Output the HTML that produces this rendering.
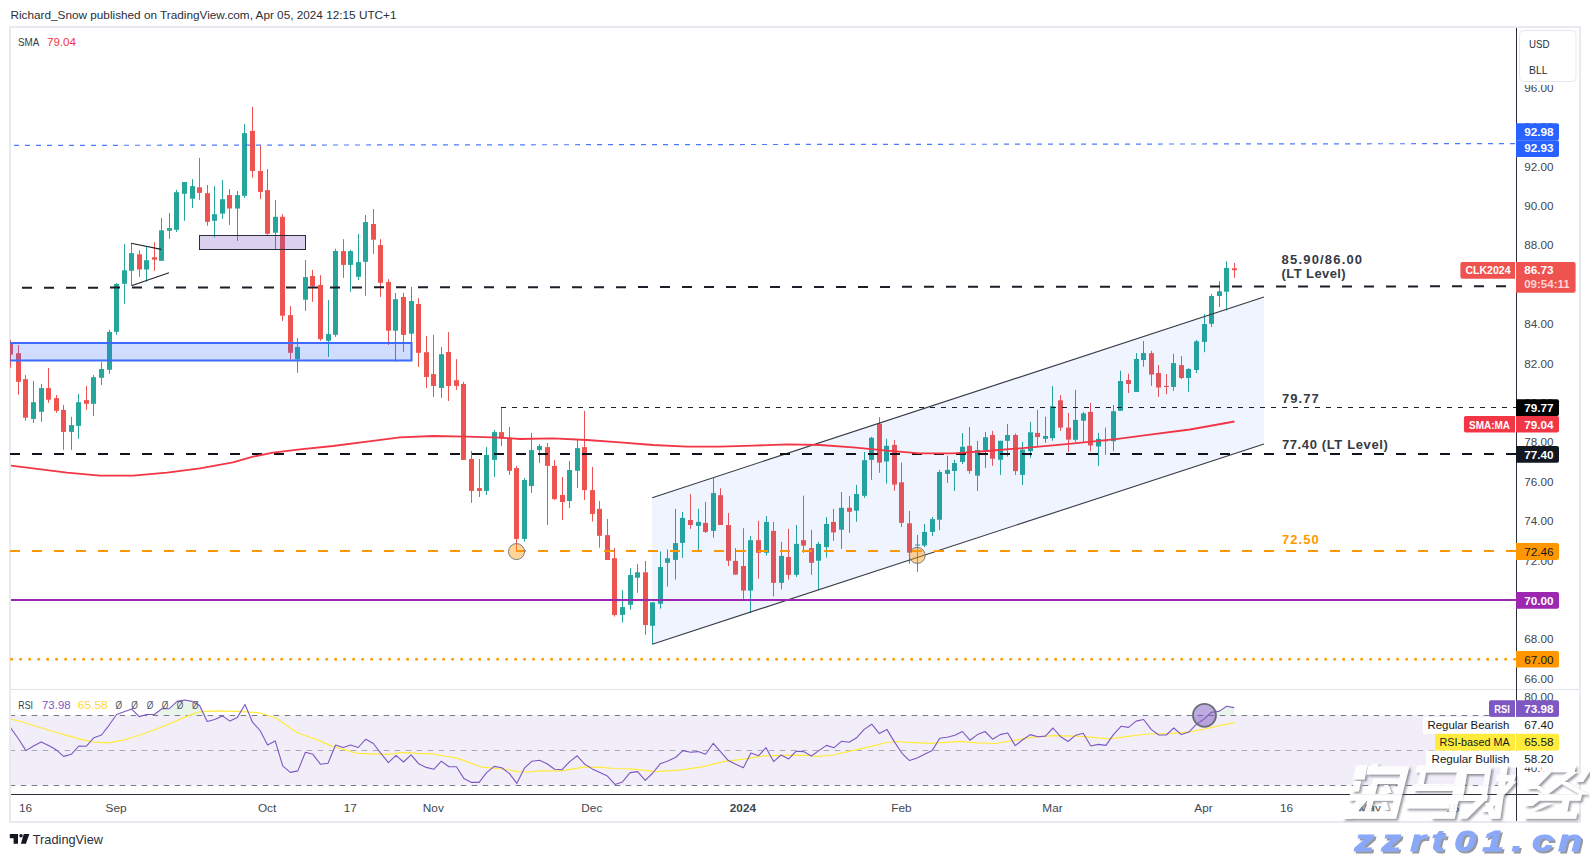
<!DOCTYPE html><html><head><meta charset="utf-8"><title>chart</title>
<style>html,body{margin:0;padding:0;background:#fff;}body{width:1590px;height:857px;overflow:hidden;font-family:"Liberation Sans",sans-serif;}svg{display:block;}text{font-family:"Liberation Sans",sans-serif;}</style></head><body>
<svg width="1590" height="857" viewBox="0 0 1590 857">
<defs>
<clipPath id="main"><rect x="10" y="28" width="1506" height="661.5"/></clipPath>
<clipPath id="rsi"><rect x="11" y="690" width="1505" height="104"/></clipPath>
<clipPath id="axis"><rect x="1517" y="28" width="62" height="661"/></clipPath>
<clipPath id="axis2"><rect x="1517" y="690" width="62" height="104"/></clipPath>
</defs>
<rect x="0" y="0" width="1590" height="857" fill="#ffffff"/>
<text x="10.5" y="18.7" font-size="11.6" fill="#2a2e39" textLength="386" lengthAdjust="spacingAndGlyphs">Richard_Snow published on TradingView.com, Apr 05, 2024 12:15 UTC+1</text>
<rect x="10" y="27" width="1570" height="795" fill="#ffffff" stroke="#e8eaf0" stroke-width="2"/>
<g clip-path="url(#main)">
<rect x="10" y="339.9" width="1" height="27.8" fill="#ef5350"/>
<rect x="8" y="342.9" width="5" height="11.7" fill="#ef5350"/>
<rect x="18" y="345.0" width="1" height="49.8" fill="#ef5350"/>
<rect x="16" y="353.2" width="5" height="28.6" fill="#ef5350"/>
<rect x="25" y="375.1" width="1" height="45.7" fill="#ef5350"/>
<rect x="23" y="379.2" width="5" height="38.5" fill="#ef5350"/>
<rect x="33" y="380.9" width="1" height="42.0" fill="#26a69a"/>
<rect x="31" y="402.2" width="5" height="16.7" fill="#26a69a"/>
<rect x="41" y="384.1" width="1" height="37.7" fill="#26a69a"/>
<rect x="39" y="388.1" width="5" height="23.7" fill="#26a69a"/>
<rect x="48" y="368.0" width="1" height="34.8" fill="#ef5350"/>
<rect x="46" y="388.1" width="5" height="11.6" fill="#ef5350"/>
<rect x="56" y="395.0" width="1" height="17.8" fill="#ef5350"/>
<rect x="54" y="398.1" width="5" height="12.7" fill="#ef5350"/>
<rect x="63" y="405.0" width="1" height="44.9" fill="#ef5350"/>
<rect x="61" y="409.9" width="5" height="22.0" fill="#ef5350"/>
<rect x="71" y="416.9" width="1" height="33.0" fill="#26a69a"/>
<rect x="69" y="425.1" width="5" height="6.8" fill="#26a69a"/>
<rect x="78" y="394.0" width="1" height="44.8" fill="#26a69a"/>
<rect x="76" y="402.2" width="5" height="23.7" fill="#26a69a"/>
<rect x="86" y="386.0" width="1" height="23.9" fill="#ef5350"/>
<rect x="84" y="400.1" width="5" height="3.7" fill="#ef5350"/>
<rect x="93" y="375.1" width="1" height="40.8" fill="#26a69a"/>
<rect x="91" y="377.2" width="5" height="26.6" fill="#26a69a"/>
<rect x="101" y="362.2" width="1" height="22.7" fill="#26a69a"/>
<rect x="99" y="369.0" width="5" height="8.8" fill="#26a69a"/>
<rect x="109" y="329.8" width="1" height="44.1" fill="#26a69a"/>
<rect x="107" y="331.9" width="5" height="37.9" fill="#26a69a"/>
<rect x="116" y="283.1" width="1" height="51.8" fill="#26a69a"/>
<rect x="114" y="284.0" width="5" height="47.8" fill="#26a69a"/>
<rect x="124" y="244.2" width="1" height="59.6" fill="#26a69a"/>
<rect x="122" y="270.3" width="5" height="13.5" fill="#26a69a"/>
<rect x="131" y="243.3" width="1" height="42.2" fill="#26a69a"/>
<rect x="129" y="253.1" width="5" height="17.7" fill="#26a69a"/>
<rect x="139" y="250.2" width="1" height="26.6" fill="#ef5350"/>
<rect x="137" y="254.3" width="5" height="15.2" fill="#ef5350"/>
<rect x="146" y="247.1" width="1" height="34.6" fill="#26a69a"/>
<rect x="144" y="260.2" width="5" height="9.3" fill="#26a69a"/>
<rect x="154" y="242.2" width="1" height="28.6" fill="#ef5350"/>
<rect x="152" y="257.2" width="5" height="2.5" fill="#ef5350"/>
<rect x="161" y="218.0" width="1" height="42.8" fill="#26a69a"/>
<rect x="159" y="230.3" width="5" height="30.5" fill="#26a69a"/>
<rect x="169" y="213.1" width="1" height="25.7" fill="#26a69a"/>
<rect x="167" y="228.1" width="5" height="2.7" fill="#26a69a"/>
<rect x="176" y="189.9" width="1" height="42.0" fill="#26a69a"/>
<rect x="174" y="192.2" width="5" height="37.6" fill="#26a69a"/>
<rect x="184" y="182.0" width="1" height="38.8" fill="#26a69a"/>
<rect x="182" y="182.0" width="5" height="11.8" fill="#26a69a"/>
<rect x="192" y="179.1" width="1" height="28.8" fill="#26a69a"/>
<rect x="190" y="186.1" width="5" height="12.6" fill="#26a69a"/>
<rect x="199" y="157.9" width="1" height="41.9" fill="#ef5350"/>
<rect x="197" y="187.3" width="5" height="5.6" fill="#ef5350"/>
<rect x="207" y="185.0" width="1" height="40.8" fill="#ef5350"/>
<rect x="205" y="193.2" width="5" height="28.6" fill="#ef5350"/>
<rect x="214" y="186.1" width="1" height="51.5" fill="#26a69a"/>
<rect x="212" y="214.2" width="5" height="6.6" fill="#26a69a"/>
<rect x="222" y="179.9" width="1" height="38.9" fill="#26a69a"/>
<rect x="220" y="199.2" width="5" height="14.4" fill="#26a69a"/>
<rect x="229" y="189.1" width="1" height="35.8" fill="#ef5350"/>
<rect x="227" y="195.1" width="5" height="13.4" fill="#ef5350"/>
<rect x="237" y="191.0" width="1" height="49.9" fill="#26a69a"/>
<rect x="235" y="195.1" width="5" height="13.4" fill="#26a69a"/>
<rect x="244" y="124.1" width="1" height="73.8" fill="#26a69a"/>
<rect x="242" y="133.1" width="5" height="62.7" fill="#26a69a"/>
<rect x="252" y="106.9" width="1" height="70.9" fill="#ef5350"/>
<rect x="250" y="130.9" width="5" height="40.1" fill="#ef5350"/>
<rect x="260" y="145.2" width="1" height="53.9" fill="#ef5350"/>
<rect x="258" y="171.0" width="5" height="20.9" fill="#ef5350"/>
<rect x="267" y="169.0" width="1" height="65.8" fill="#ef5350"/>
<rect x="265" y="190.1" width="5" height="43.7" fill="#ef5350"/>
<rect x="275" y="199.9" width="1" height="49.1" fill="#26a69a"/>
<rect x="273" y="216.8" width="5" height="15.9" fill="#26a69a"/>
<rect x="282" y="214.2" width="1" height="106.7" fill="#ef5350"/>
<rect x="280" y="216.8" width="5" height="98.9" fill="#ef5350"/>
<rect x="290" y="306.1" width="1" height="53.5" fill="#ef5350"/>
<rect x="288" y="315.1" width="5" height="37.7" fill="#ef5350"/>
<rect x="297" y="338.1" width="1" height="34.6" fill="#26a69a"/>
<rect x="295" y="347.1" width="5" height="12.1" fill="#26a69a"/>
<rect x="305" y="260.1" width="1" height="50.7" fill="#26a69a"/>
<rect x="303" y="277.1" width="5" height="22.6" fill="#26a69a"/>
<rect x="312" y="269.9" width="1" height="31.9" fill="#ef5350"/>
<rect x="310" y="276.0" width="5" height="10.1" fill="#ef5350"/>
<rect x="320" y="275.2" width="1" height="65.6" fill="#ef5350"/>
<rect x="318" y="285.0" width="5" height="54.1" fill="#ef5350"/>
<rect x="328" y="300.0" width="1" height="56.9" fill="#26a69a"/>
<rect x="326" y="334.1" width="5" height="6.7" fill="#26a69a"/>
<rect x="335" y="248.7" width="1" height="88.2" fill="#26a69a"/>
<rect x="333" y="251.0" width="5" height="83.8" fill="#26a69a"/>
<rect x="343" y="239.2" width="1" height="38.7" fill="#ef5350"/>
<rect x="341" y="251.1" width="5" height="13.8" fill="#ef5350"/>
<rect x="350" y="249.8" width="1" height="42.0" fill="#26a69a"/>
<rect x="348" y="251.1" width="5" height="13.8" fill="#26a69a"/>
<rect x="358" y="234.0" width="1" height="46.1" fill="#26a69a"/>
<rect x="356" y="262.1" width="5" height="14.7" fill="#26a69a"/>
<rect x="365" y="215.0" width="1" height="80.9" fill="#26a69a"/>
<rect x="363" y="222.1" width="5" height="39.7" fill="#26a69a"/>
<rect x="373" y="209.0" width="1" height="44.9" fill="#ef5350"/>
<rect x="371" y="224.0" width="5" height="15.7" fill="#ef5350"/>
<rect x="380" y="239.2" width="1" height="57.7" fill="#ef5350"/>
<rect x="378" y="245.1" width="5" height="37.7" fill="#ef5350"/>
<rect x="388" y="279.2" width="1" height="65.7" fill="#ef5350"/>
<rect x="386" y="282.0" width="5" height="48.7" fill="#ef5350"/>
<rect x="395" y="293.1" width="1" height="68.7" fill="#26a69a"/>
<rect x="393" y="299.2" width="5" height="31.5" fill="#26a69a"/>
<rect x="403" y="292.9" width="1" height="58.9" fill="#ef5350"/>
<rect x="401" y="297.0" width="5" height="37.9" fill="#ef5350"/>
<rect x="411" y="286.8" width="1" height="55.5" fill="#26a69a"/>
<rect x="409" y="301.0" width="5" height="32.7" fill="#26a69a"/>
<rect x="418" y="298.1" width="1" height="68.8" fill="#ef5350"/>
<rect x="416" y="304.0" width="5" height="48.8" fill="#ef5350"/>
<rect x="426" y="335.8" width="1" height="52.2" fill="#ef5350"/>
<rect x="424" y="352.2" width="5" height="24.8" fill="#ef5350"/>
<rect x="433" y="334.9" width="1" height="62.1" fill="#ef5350"/>
<rect x="431" y="374.1" width="5" height="11.9" fill="#ef5350"/>
<rect x="441" y="347.1" width="1" height="50.8" fill="#26a69a"/>
<rect x="439" y="354.2" width="5" height="33.8" fill="#26a69a"/>
<rect x="448" y="332.1" width="1" height="68.9" fill="#ef5350"/>
<rect x="446" y="352.0" width="5" height="34.0" fill="#ef5350"/>
<rect x="456" y="359.1" width="1" height="30.9" fill="#ef5350"/>
<rect x="454" y="380.2" width="5" height="5.7" fill="#ef5350"/>
<rect x="463" y="381.8" width="1" height="78.1" fill="#ef5350"/>
<rect x="461" y="383.9" width="5" height="76.0" fill="#ef5350"/>
<rect x="471" y="450.9" width="1" height="51.9" fill="#ef5350"/>
<rect x="469" y="459.0" width="5" height="31.9" fill="#ef5350"/>
<rect x="479" y="459.0" width="1" height="38.0" fill="#ef5350"/>
<rect x="477" y="488.1" width="5" height="2.8" fill="#ef5350"/>
<rect x="486" y="447.1" width="1" height="47.9" fill="#26a69a"/>
<rect x="484" y="455.0" width="5" height="35.9" fill="#26a69a"/>
<rect x="494" y="430.0" width="1" height="47.0" fill="#26a69a"/>
<rect x="492" y="432.1" width="5" height="27.8" fill="#26a69a"/>
<rect x="501" y="407.6" width="1" height="38.4" fill="#ef5350"/>
<rect x="499" y="432.1" width="5" height="6.5" fill="#ef5350"/>
<rect x="509" y="426.9" width="1" height="48.0" fill="#ef5350"/>
<rect x="507" y="437.8" width="5" height="33.0" fill="#ef5350"/>
<rect x="516" y="465.8" width="1" height="86.2" fill="#ef5350"/>
<rect x="514" y="468.1" width="5" height="70.8" fill="#ef5350"/>
<rect x="524" y="478.0" width="1" height="63.8" fill="#26a69a"/>
<rect x="522" y="480.0" width="5" height="58.9" fill="#26a69a"/>
<rect x="531" y="432.9" width="1" height="60.0" fill="#26a69a"/>
<rect x="529" y="450.1" width="5" height="35.9" fill="#26a69a"/>
<rect x="539" y="444.0" width="1" height="19.1" fill="#26a69a"/>
<rect x="537" y="446.0" width="5" height="4.1" fill="#26a69a"/>
<rect x="547" y="443.0" width="1" height="82.0" fill="#ef5350"/>
<rect x="545" y="447.1" width="5" height="18.8" fill="#ef5350"/>
<rect x="554" y="459.9" width="1" height="40.0" fill="#ef5350"/>
<rect x="552" y="465.9" width="5" height="33.2" fill="#ef5350"/>
<rect x="562" y="477.0" width="1" height="43.1" fill="#ef5350"/>
<rect x="560" y="495.0" width="5" height="7.0" fill="#ef5350"/>
<rect x="569" y="461.0" width="1" height="47.0" fill="#26a69a"/>
<rect x="567" y="470.0" width="5" height="31.0" fill="#26a69a"/>
<rect x="577" y="439.9" width="1" height="48.1" fill="#26a69a"/>
<rect x="575" y="448.1" width="5" height="22.7" fill="#26a69a"/>
<rect x="584" y="410.8" width="1" height="89.2" fill="#ef5350"/>
<rect x="582" y="447.1" width="5" height="43.0" fill="#ef5350"/>
<rect x="592" y="466.9" width="1" height="54.6" fill="#ef5350"/>
<rect x="590" y="490.1" width="5" height="23.8" fill="#ef5350"/>
<rect x="599" y="501.0" width="1" height="46.7" fill="#ef5350"/>
<rect x="597" y="508.9" width="5" height="26.9" fill="#ef5350"/>
<rect x="607" y="519.0" width="1" height="41.0" fill="#ef5350"/>
<rect x="605" y="535.1" width="5" height="24.9" fill="#ef5350"/>
<rect x="614" y="548.1" width="1" height="68.5" fill="#ef5350"/>
<rect x="612" y="558.2" width="5" height="56.7" fill="#ef5350"/>
<rect x="622" y="590.1" width="1" height="32.5" fill="#26a69a"/>
<rect x="620" y="607.1" width="5" height="7.8" fill="#26a69a"/>
<rect x="630" y="568.1" width="1" height="41.5" fill="#26a69a"/>
<rect x="628" y="575.0" width="5" height="29.8" fill="#26a69a"/>
<rect x="637" y="564.1" width="1" height="28.7" fill="#26a69a"/>
<rect x="635" y="572.3" width="5" height="5.4" fill="#26a69a"/>
<rect x="645" y="560.9" width="1" height="73.9" fill="#ef5350"/>
<rect x="643" y="572.3" width="5" height="52.7" fill="#ef5350"/>
<rect x="652" y="602.3" width="1" height="42.0" fill="#26a69a"/>
<rect x="650" y="602.3" width="5" height="23.5" fill="#26a69a"/>
<rect x="660" y="551.5" width="1" height="57.1" fill="#26a69a"/>
<rect x="658" y="567.0" width="5" height="36.8" fill="#26a69a"/>
<rect x="667" y="549.4" width="1" height="37.1" fill="#26a69a"/>
<rect x="665" y="558.2" width="5" height="4.6" fill="#26a69a"/>
<rect x="675" y="508.8" width="1" height="70.8" fill="#26a69a"/>
<rect x="673" y="543.1" width="5" height="16.8" fill="#26a69a"/>
<rect x="682" y="512.0" width="1" height="45.8" fill="#26a69a"/>
<rect x="680" y="517.9" width="5" height="25.0" fill="#26a69a"/>
<rect x="690" y="494.1" width="1" height="34.7" fill="#ef5350"/>
<rect x="688" y="520.0" width="5" height="5.0" fill="#ef5350"/>
<rect x="698" y="508.8" width="1" height="42.0" fill="#26a69a"/>
<rect x="696" y="521.9" width="5" height="4.0" fill="#26a69a"/>
<rect x="705" y="501.9" width="1" height="31.1" fill="#ef5350"/>
<rect x="703" y="522.9" width="5" height="9.0" fill="#ef5350"/>
<rect x="713" y="478.0" width="1" height="59.6" fill="#26a69a"/>
<rect x="711" y="493.1" width="5" height="37.8" fill="#26a69a"/>
<rect x="720" y="488.3" width="1" height="36.7" fill="#ef5350"/>
<rect x="718" y="495.2" width="5" height="29.8" fill="#ef5350"/>
<rect x="728" y="513.0" width="1" height="53.0" fill="#ef5350"/>
<rect x="726" y="525.0" width="5" height="35.7" fill="#ef5350"/>
<rect x="735" y="548.1" width="1" height="26.5" fill="#ef5350"/>
<rect x="733" y="560.9" width="5" height="13.7" fill="#ef5350"/>
<rect x="743" y="528.2" width="1" height="70.6" fill="#ef5350"/>
<rect x="741" y="566.0" width="5" height="24.6" fill="#ef5350"/>
<rect x="750" y="536.0" width="1" height="77.2" fill="#26a69a"/>
<rect x="748" y="540.2" width="5" height="50.4" fill="#26a69a"/>
<rect x="758" y="520.8" width="1" height="57.8" fill="#ef5350"/>
<rect x="756" y="540.2" width="5" height="12.6" fill="#ef5350"/>
<rect x="766" y="516.0" width="1" height="39.5" fill="#26a69a"/>
<rect x="764" y="521.9" width="5" height="30.9" fill="#26a69a"/>
<rect x="773" y="521.9" width="1" height="74.5" fill="#ef5350"/>
<rect x="771" y="530.9" width="5" height="51.9" fill="#ef5350"/>
<rect x="781" y="541.8" width="1" height="47.7" fill="#26a69a"/>
<rect x="779" y="555.9" width="5" height="26.9" fill="#26a69a"/>
<rect x="788" y="528.8" width="1" height="50.8" fill="#ef5350"/>
<rect x="786" y="557.0" width="5" height="17.8" fill="#ef5350"/>
<rect x="796" y="525.0" width="1" height="51.9" fill="#26a69a"/>
<rect x="794" y="543.9" width="5" height="30.9" fill="#26a69a"/>
<rect x="803" y="495.6" width="1" height="57.2" fill="#ef5350"/>
<rect x="801" y="540.2" width="5" height="5.4" fill="#ef5350"/>
<rect x="811" y="529.9" width="1" height="44.9" fill="#ef5350"/>
<rect x="809" y="548.1" width="5" height="14.7" fill="#ef5350"/>
<rect x="818" y="541.8" width="1" height="48.3" fill="#26a69a"/>
<rect x="816" y="543.9" width="5" height="16.8" fill="#26a69a"/>
<rect x="826" y="517.1" width="1" height="40.5" fill="#26a69a"/>
<rect x="824" y="524.0" width="5" height="23.1" fill="#26a69a"/>
<rect x="833" y="508.9" width="1" height="31.9" fill="#ef5350"/>
<rect x="831" y="521.9" width="5" height="10.5" fill="#ef5350"/>
<rect x="841" y="492.1" width="1" height="56.7" fill="#26a69a"/>
<rect x="839" y="507.8" width="5" height="21.9" fill="#26a69a"/>
<rect x="849" y="496.1" width="1" height="36.7" fill="#ef5350"/>
<rect x="847" y="507.8" width="5" height="4.0" fill="#ef5350"/>
<rect x="856" y="484.9" width="1" height="36.9" fill="#26a69a"/>
<rect x="854" y="494.0" width="5" height="16.7" fill="#26a69a"/>
<rect x="864" y="452.0" width="1" height="45.9" fill="#26a69a"/>
<rect x="862" y="460.2" width="5" height="35.6" fill="#26a69a"/>
<rect x="871" y="436.7" width="1" height="43.1" fill="#26a69a"/>
<rect x="869" y="437.8" width="5" height="22.1" fill="#26a69a"/>
<rect x="879" y="417.2" width="1" height="55.6" fill="#ef5350"/>
<rect x="877" y="423.7" width="5" height="38.9" fill="#ef5350"/>
<rect x="886" y="438.8" width="1" height="44.8" fill="#26a69a"/>
<rect x="884" y="445.8" width="5" height="15.7" fill="#26a69a"/>
<rect x="894" y="439.9" width="1" height="50.8" fill="#ef5350"/>
<rect x="892" y="444.9" width="5" height="39.7" fill="#ef5350"/>
<rect x="901" y="462.6" width="1" height="64.4" fill="#ef5350"/>
<rect x="899" y="482.3" width="5" height="40.5" fill="#ef5350"/>
<rect x="909" y="510.9" width="1" height="52.9" fill="#ef5350"/>
<rect x="907" y="523.3" width="5" height="29.4" fill="#ef5350"/>
<rect x="917" y="535.0" width="1" height="36.8" fill="#26a69a"/>
<rect x="915" y="544.5" width="5" height="1.0" fill="#26a69a"/>
<rect x="924" y="523.9" width="1" height="23.1" fill="#26a69a"/>
<rect x="922" y="531.9" width="5" height="13.6" fill="#26a69a"/>
<rect x="932" y="517.0" width="1" height="18.9" fill="#26a69a"/>
<rect x="930" y="519.1" width="5" height="12.8" fill="#26a69a"/>
<rect x="939" y="469.9" width="1" height="60.3" fill="#26a69a"/>
<rect x="937" y="472.0" width="5" height="47.7" fill="#26a69a"/>
<rect x="947" y="455.6" width="1" height="27.3" fill="#26a69a"/>
<rect x="945" y="469.9" width="5" height="4.0" fill="#26a69a"/>
<rect x="954" y="459.8" width="1" height="31.1" fill="#26a69a"/>
<rect x="952" y="463.0" width="5" height="8.0" fill="#26a69a"/>
<rect x="962" y="433.0" width="1" height="31.0" fill="#26a69a"/>
<rect x="960" y="446.8" width="5" height="15.1" fill="#26a69a"/>
<rect x="969" y="426.9" width="1" height="47.0" fill="#ef5350"/>
<rect x="967" y="445.8" width="5" height="25.2" fill="#ef5350"/>
<rect x="977" y="440.9" width="1" height="50.0" fill="#26a69a"/>
<rect x="975" y="450.0" width="5" height="25.6" fill="#26a69a"/>
<rect x="985" y="431.9" width="1" height="35.9" fill="#26a69a"/>
<rect x="983" y="437.2" width="5" height="12.8" fill="#26a69a"/>
<rect x="992" y="430.8" width="1" height="35.0" fill="#ef5350"/>
<rect x="990" y="435.0" width="5" height="23.7" fill="#ef5350"/>
<rect x="1000" y="440.8" width="1" height="34.1" fill="#26a69a"/>
<rect x="998" y="440.8" width="5" height="19.0" fill="#26a69a"/>
<rect x="1007" y="424.0" width="1" height="32.6" fill="#26a69a"/>
<rect x="1005" y="435.0" width="5" height="5.8" fill="#26a69a"/>
<rect x="1015" y="433.5" width="1" height="41.4" fill="#ef5350"/>
<rect x="1013" y="435.0" width="5" height="36.1" fill="#ef5350"/>
<rect x="1022" y="441.9" width="1" height="43.1" fill="#26a69a"/>
<rect x="1020" y="449.7" width="5" height="25.2" fill="#26a69a"/>
<rect x="1030" y="421.8" width="1" height="35.9" fill="#26a69a"/>
<rect x="1028" y="432.3" width="5" height="18.9" fill="#26a69a"/>
<rect x="1037" y="409.8" width="1" height="36.1" fill="#ef5350"/>
<rect x="1035" y="432.9" width="5" height="4.2" fill="#ef5350"/>
<rect x="1045" y="416.7" width="1" height="26.1" fill="#26a69a"/>
<rect x="1043" y="436.0" width="5" height="2.8" fill="#26a69a"/>
<rect x="1052" y="386.1" width="1" height="54.6" fill="#26a69a"/>
<rect x="1050" y="406.2" width="5" height="31.9" fill="#26a69a"/>
<rect x="1060" y="395.1" width="1" height="35.7" fill="#ef5350"/>
<rect x="1058" y="400.3" width="5" height="27.3" fill="#ef5350"/>
<rect x="1068" y="412.9" width="1" height="38.9" fill="#ef5350"/>
<rect x="1066" y="427.6" width="5" height="12.0" fill="#ef5350"/>
<rect x="1075" y="389.8" width="1" height="52.1" fill="#26a69a"/>
<rect x="1073" y="419.9" width="5" height="19.9" fill="#26a69a"/>
<rect x="1083" y="411.9" width="1" height="30.0" fill="#26a69a"/>
<rect x="1081" y="413.4" width="5" height="7.3" fill="#26a69a"/>
<rect x="1090" y="402.9" width="1" height="48.3" fill="#ef5350"/>
<rect x="1088" y="411.9" width="5" height="33.6" fill="#ef5350"/>
<rect x="1098" y="432.9" width="1" height="33.0" fill="#26a69a"/>
<rect x="1096" y="438.8" width="5" height="7.7" fill="#26a69a"/>
<rect x="1105" y="427.6" width="1" height="27.3" fill="#ef5350"/>
<rect x="1103" y="439.8" width="5" height="1.5" fill="#ef5350"/>
<rect x="1113" y="405.0" width="1" height="46.2" fill="#26a69a"/>
<rect x="1111" y="411.3" width="5" height="30.0" fill="#26a69a"/>
<rect x="1120" y="370.7" width="1" height="40.1" fill="#26a69a"/>
<rect x="1118" y="381.0" width="5" height="29.8" fill="#26a69a"/>
<rect x="1128" y="373.7" width="1" height="19.3" fill="#ef5350"/>
<rect x="1126" y="380.0" width="5" height="4.0" fill="#ef5350"/>
<rect x="1136" y="353.1" width="1" height="38.8" fill="#26a69a"/>
<rect x="1134" y="359.0" width="5" height="32.9" fill="#26a69a"/>
<rect x="1143" y="340.9" width="1" height="25.8" fill="#26a69a"/>
<rect x="1141" y="353.1" width="5" height="6.9" fill="#26a69a"/>
<rect x="1151" y="350.8" width="1" height="35.1" fill="#ef5350"/>
<rect x="1149" y="353.2" width="5" height="21.4" fill="#ef5350"/>
<rect x="1158" y="365.1" width="1" height="31.7" fill="#ef5350"/>
<rect x="1156" y="373.0" width="5" height="14.5" fill="#ef5350"/>
<rect x="1166" y="374.0" width="1" height="20.2" fill="#ef5350"/>
<rect x="1164" y="385.9" width="5" height="1.1" fill="#ef5350"/>
<rect x="1173" y="353.8" width="1" height="37.1" fill="#26a69a"/>
<rect x="1171" y="363.1" width="5" height="23.8" fill="#26a69a"/>
<rect x="1181" y="356.2" width="1" height="22.8" fill="#ef5350"/>
<rect x="1179" y="365.1" width="5" height="12.9" fill="#ef5350"/>
<rect x="1188" y="368.1" width="1" height="23.8" fill="#26a69a"/>
<rect x="1186" y="369.0" width="5" height="9.0" fill="#26a69a"/>
<rect x="1196" y="339.9" width="1" height="33.1" fill="#26a69a"/>
<rect x="1194" y="341.3" width="5" height="28.7" fill="#26a69a"/>
<rect x="1204" y="314.1" width="1" height="38.1" fill="#26a69a"/>
<rect x="1202" y="324.0" width="5" height="17.9" fill="#26a69a"/>
<rect x="1211" y="294.0" width="1" height="33.0" fill="#26a69a"/>
<rect x="1209" y="296.0" width="5" height="27.8" fill="#26a69a"/>
<rect x="1219" y="281.2" width="1" height="25.9" fill="#26a69a"/>
<rect x="1217" y="291.3" width="5" height="4.7" fill="#26a69a"/>
<rect x="1226" y="261.3" width="1" height="49.2" fill="#26a69a"/>
<rect x="1224" y="267.9" width="5" height="23.8" fill="#26a69a"/>
<rect x="1234" y="262.9" width="1" height="14.9" fill="#ef5350"/>
<rect x="1232" y="268.3" width="5" height="1.9" fill="#ef5350"/>
<polygon points="652.2,497.7 1264,297.0 1264,444.0 652.2,644.3" fill="#2962ff" fill-opacity="0.07"/>
<line x1="652.2" y1="497.7" x2="1264" y2="297.0" stroke="#363a45" stroke-width="1.1"/>
<line x1="652.2" y1="644.3" x2="1264" y2="444.0" stroke="#363a45" stroke-width="1.1"/>
<line x1="14" y1="145.4" x2="1516" y2="143.6" stroke="#2962ff" stroke-opacity="0.85" stroke-width="1.2" stroke-dasharray="5 6"/>
<rect x="0" y="343" width="411.5" height="17.5" fill="#2962ff" fill-opacity="0.22" stroke="#3d6bff" stroke-width="2"/>
<rect x="199.5" y="235.5" width="106" height="14" fill="#7e57c2" fill-opacity="0.28" stroke="#2a2e39" stroke-width="1"/>
<line x1="131" y1="243.3" x2="161.4" y2="249.4" stroke="#1e222d" stroke-width="1.1"/>
<line x1="131.4" y1="285.8" x2="169" y2="272.7" stroke="#1e222d" stroke-width="1.1"/>
<line x1="22" y1="287.7" x2="1506" y2="286.3" stroke="#1c1f2a" stroke-width="2" stroke-dasharray="10 12"/>
<line x1="501" y1="407.5" x2="1516" y2="407.5" stroke="#1c1f2a" stroke-width="1" stroke-dasharray="5 6"/>
<line x1="10" y1="454" x2="1516" y2="454" stroke="#10131c" stroke-width="2" stroke-dasharray="10 12"/>
<line x1="10" y1="551" x2="1516" y2="551" stroke="#ff9800" stroke-width="2" stroke-dasharray="10 12"/>
<line x1="11" y1="600" x2="1516" y2="600" stroke="#9c27b0" stroke-width="2"/>
<line x1="10.3" y1="659.3" x2="1516" y2="659.3" stroke="#ff9800" stroke-width="2.4" stroke-dasharray="2.6 6.4"/>
<polyline points="11.0,465.7 33.0,468.3 67.0,472.7 100.0,475.7 133.0,475.7 167.0,472.7 200.0,468.3 233.0,462.3 253.0,456.7 273.0,452.7 300.0,449.3 333.0,446.0 367.0,441.7 400.0,437.3 433.0,436.0 467.0,436.7 500.0,437.7 520.0,439.0 553.0,438.3 587.0,440.0 620.0,442.3 653.0,445.0 687.0,446.7 720.0,446.7 753.0,445.7 787.0,444.3 820.0,445.0 853.0,447.3 887.0,450.7 920.0,453.3 953.0,453.3 987.0,451.0 1020.0,448.3 1050.0,445.7 1074.0,443.4 1116.0,439.2 1150.0,434.6 1190.0,429.5 1234.5,421.5" fill="none" stroke="#f23645" stroke-width="1.8" stroke-linejoin="round"/>
<circle cx="516.5" cy="551.6" r="8" fill="#ff9800" fill-opacity="0.42" stroke="#787b86" stroke-width="1"/>
<circle cx="917.2" cy="555.4" r="8" fill="#ff9800" fill-opacity="0.42" stroke="#787b86" stroke-width="1"/>
<text x="1281.6" y="263.6" font-size="13" font-weight="bold" fill="#363a45" textLength="80.5" lengthAdjust="spacing">85.90/86.00</text>
<text x="1281.6" y="277.7" font-size="13" font-weight="bold" fill="#363a45" textLength="64" lengthAdjust="spacing">(LT Level)</text>
<text x="1281.9" y="402.9" font-size="13" font-weight="bold" fill="#363a45" textLength="36.8" lengthAdjust="spacing">79.77</text>
<text x="1281.9" y="448.9" font-size="13" font-weight="bold" fill="#363a45" textLength="106" lengthAdjust="spacing">77.40 (LT Level)</text>
<text x="1281.9" y="543.8" font-size="13" font-weight="bold" fill="#ff9800" textLength="36.8" lengthAdjust="spacing">72.50</text>
<text x="18" y="45.6" font-size="11.8" fill="#363a45" textLength="21.3" lengthAdjust="spacingAndGlyphs">SMA</text>
<text x="46.9" y="45.6" font-size="11.8" fill="#f23645" textLength="29.2" lengthAdjust="spacingAndGlyphs">79.04</text>
</g>
<rect x="11" y="689" width="1568" height="1" fill="#e0e3eb"/>
<g clip-path="url(#rsi)">
<rect x="11" y="715.5" width="1505" height="70" fill="#7e57c2" fill-opacity="0.1"/>
<polygon points="154.3,715.5 154.3,714.5 161.9,708.7 169.4,708.7 177.0,701.4 184.5,700.0 192.1,701.4 199.6,705.6 207.2,715.5 207.2,715.5" fill="#4caf50" fill-opacity="0.12"/>
<polygon points="1204.0,715.5 1204.0,715.5 1211.6,712.2 1219.1,711.4 1226.7,706.2 1234.2,707.6 1234.2,715.5" fill="#4caf50" fill-opacity="0.12"/>
<line x1="9.7" y1="715.5" x2="1516" y2="715.5" stroke="#787b86" stroke-width="1" stroke-dasharray="5.5 5.5"/>
<line x1="9.7" y1="750.5" x2="1516" y2="750.5" stroke="#787b86" stroke-opacity="0.6" stroke-width="1" stroke-dasharray="5.5 5.5"/>
<line x1="9.7" y1="785.5" x2="1516" y2="785.5" stroke="#787b86" stroke-width="1" stroke-dasharray="5.5 5.5"/>
<polyline points="10.8,719.1 20.8,721.5 41.5,728.0 62.3,734.2 83.0,739.8 93.4,741.9 107.9,742.9 124.5,739.8 145.3,733.2 166.0,725.3 186.8,716.4 199.3,711.8 215.9,710.8 238.7,711.4 259.4,712.8 276.0,718.0 296.8,732.5 311.3,737.7 320.0,740.9 330.4,745.6 340.8,748.7 357.4,753.3 371.9,753.9 388.5,754.3 403.0,752.3 417.6,753.3 432.1,753.9 444.5,756.0 457.0,758.1 469.4,762.6 481.9,767.2 496.4,768.5 506.8,769.5 517.2,771.6 527.6,772.0 540.0,770.9 560.8,770.9 573.2,768.9 585.7,766.8 600.2,767.4 614.7,768.5 631.3,768.9 640.0,769.9 656.6,771.6 681.5,769.9 702.3,766.8 723.0,761.6 743.8,759.1 764.5,755.8 785.3,755.4 806.0,755.4 818.5,756.4 833.0,755.0 847.6,751.6 868.3,747.1 887.0,742.5 897.4,741.5 909.8,742.3 930.6,743.3 947.2,742.3 960.0,741.3 976.6,742.9 995.3,743.5 1011.9,740.9 1030.6,737.3 1053.4,735.7 1076.2,736.1 1092.8,737.3 1109.4,738.8 1126.0,736.7 1146.8,734.0 1167.6,733.6 1188.3,732.1 1204.9,729.0 1219.4,725.7 1234.6,722.6" fill="none" stroke="#ffeb3b" stroke-width="1.2" stroke-linejoin="round"/>
<polyline points="10.8,728.0 18.4,738.8 26.0,750.6 33.5,746.0 41.1,741.9 48.6,745.6 56.2,749.8 63.7,756.4 71.3,754.3 78.8,746.0 86.4,746.2 93.9,737.7 101.5,735.0 109.0,725.3 116.6,714.5 124.1,711.8 131.7,709.1 139.2,716.6 146.8,714.5 154.3,714.5 161.9,708.7 169.4,708.7 177.0,701.4 184.5,700.0 192.1,701.4 199.6,705.6 207.2,721.5 214.7,719.5 222.3,715.9 229.9,721.1 237.4,717.4 245.0,704.5 252.5,722.2 260.1,730.5 267.6,745.0 275.2,740.9 282.7,765.8 290.3,772.4 297.8,770.9 305.4,752.3 312.9,754.3 320.5,764.3 328.0,763.3 335.6,745.0 343.1,747.5 350.7,745.0 358.2,747.5 365.8,739.2 373.3,743.5 380.9,753.3 388.4,762.6 396.0,755.4 403.5,762.0 411.1,754.8 418.6,763.7 426.2,767.4 433.8,769.3 441.3,761.2 448.9,766.8 456.4,766.8 464.0,778.6 471.5,782.4 479.1,782.4 486.6,772.6 494.2,766.4 501.7,767.8 509.3,773.4 516.8,783.4 524.4,768.2 531.9,761.2 539.5,760.2 547.0,763.7 554.6,769.3 562.1,769.7 569.7,761.6 577.2,755.8 584.8,764.3 592.3,768.9 599.9,772.6 607.4,776.1 615.0,784.4 622.5,781.9 630.1,772.6 637.6,771.6 645.2,780.3 652.8,773.0 660.3,763.7 667.9,761.0 675.4,757.5 683.0,750.6 690.5,752.3 698.1,751.6 705.6,754.3 713.2,743.3 720.7,751.9 728.3,760.6 735.8,764.3 743.4,767.8 750.9,752.9 758.5,755.8 766.0,747.7 773.6,761.6 781.1,755.0 788.7,758.9 796.2,751.2 803.8,751.6 811.3,756.0 818.9,750.6 826.4,745.4 834.0,747.7 841.5,741.3 849.1,742.3 856.7,737.7 864.2,729.4 871.8,724.2 879.3,733.6 886.9,729.4 894.4,741.9 902.0,753.3 909.5,760.6 917.1,758.1 924.6,754.3 932.2,750.6 939.7,738.2 947.3,737.3 954.8,735.2 962.4,731.5 969.9,740.2 977.5,734.6 985.0,731.5 992.6,739.2 1000.1,734.6 1007.7,733.0 1015.2,745.6 1022.8,739.8 1030.3,734.6 1037.9,736.7 1045.4,736.1 1053.0,728.0 1060.6,736.7 1068.1,741.5 1075.7,735.2 1083.2,733.2 1090.8,746.0 1098.3,744.4 1105.9,745.4 1113.4,734.6 1121.0,726.3 1128.5,727.4 1136.1,721.1 1143.6,719.5 1151.2,729.4 1158.7,735.0 1166.3,735.0 1173.8,728.0 1181.4,734.6 1188.9,732.1 1196.5,724.2 1204.0,719.1 1211.6,712.2 1219.1,711.4 1226.7,706.2 1234.2,707.6" fill="none" stroke="#7e57c2" stroke-width="1.1" stroke-linejoin="round"/>
<circle cx="1204.5" cy="715.3" r="11.5" fill="#7e57c2" fill-opacity="0.5" stroke="#6a6d78" stroke-width="1.8"/>
<text x="18.3" y="709.1" font-size="11.8" fill="#363a45" textLength="14.7" lengthAdjust="spacingAndGlyphs">RSI</text>
<text x="42" y="709.1" font-size="11.8" fill="#7e57c2" textLength="28.6" lengthAdjust="spacingAndGlyphs">73.98</text>
<text x="77.8" y="709.1" font-size="11.8" fill="#fdd835" textLength="29.9" lengthAdjust="spacingAndGlyphs">65.58</text>
<text x="115.60000000000001" y="709.1" font-size="10.6" fill="#50535e" textLength="6.6" lengthAdjust="spacingAndGlyphs">Ø</text>
<text x="131.2" y="709.1" font-size="10.6" fill="#50535e" textLength="6.6" lengthAdjust="spacingAndGlyphs">Ø</text>
<text x="146.7" y="709.1" font-size="10.6" fill="#50535e" textLength="6.6" lengthAdjust="spacingAndGlyphs">Ø</text>
<text x="161.7" y="709.1" font-size="10.6" fill="#50535e" textLength="6.6" lengthAdjust="spacingAndGlyphs">Ø</text>
<text x="176.7" y="709.1" font-size="10.6" fill="#50535e" textLength="6.6" lengthAdjust="spacingAndGlyphs">Ø</text>
<text x="192.0" y="709.1" font-size="10.6" fill="#50535e" textLength="6.6" lengthAdjust="spacingAndGlyphs">Ø</text>
</g>
<rect x="11" y="794" width="1568" height="1" fill="#2a2e39"/>
<text x="25.5" y="811.5" font-size="11.8" fill="#434651" text-anchor="middle">16</text>
<text x="116.1" y="811.5" font-size="11.8" fill="#434651" text-anchor="middle">Sep</text>
<text x="267.1" y="811.5" font-size="11.8" fill="#434651" text-anchor="middle">Oct</text>
<text x="350.2" y="811.5" font-size="11.8" fill="#434651" text-anchor="middle">17</text>
<text x="433.3" y="811.5" font-size="11.8" fill="#434651" text-anchor="middle">Nov</text>
<text x="591.8" y="811.5" font-size="11.8" fill="#434651" text-anchor="middle">Dec</text>
<text x="742.9" y="811.5" font-size="11.8" fill="#434651" text-anchor="middle" font-weight="bold">2024</text>
<text x="901.5" y="811.5" font-size="11.8" fill="#434651" text-anchor="middle">Feb</text>
<text x="1052.5" y="811.5" font-size="11.8" fill="#434651" text-anchor="middle">Mar</text>
<text x="1203.5" y="811.5" font-size="11.8" fill="#434651" text-anchor="middle">Apr</text>
<text x="1286.6" y="811.5" font-size="11.8" fill="#434651" text-anchor="middle">16</text>
<text x="1369.7" y="811.5" font-size="11.8" fill="#434651" text-anchor="middle">May</text>
<text x="1452.7" y="811.5" font-size="11.8" fill="#434651" text-anchor="middle">16</text>
<rect x="1516" y="28" width="1" height="793" fill="#2a2e39"/>
<g clip-path="url(#axis)">
<text x="1524.2" y="682.7" font-size="11.8" fill="#434651" textLength="29.2" lengthAdjust="spacingAndGlyphs">66.00</text>
<text x="1524.2" y="643.3" font-size="11.8" fill="#434651" textLength="29.2" lengthAdjust="spacingAndGlyphs">68.00</text>
<text x="1524.2" y="603.9" font-size="11.8" fill="#434651" textLength="29.2" lengthAdjust="spacingAndGlyphs">70.00</text>
<text x="1524.2" y="564.5" font-size="11.8" fill="#434651" textLength="29.2" lengthAdjust="spacingAndGlyphs">72.00</text>
<text x="1524.2" y="525.1" font-size="11.8" fill="#434651" textLength="29.2" lengthAdjust="spacingAndGlyphs">74.00</text>
<text x="1524.2" y="485.7" font-size="11.8" fill="#434651" textLength="29.2" lengthAdjust="spacingAndGlyphs">76.00</text>
<text x="1524.2" y="446.3" font-size="11.8" fill="#434651" textLength="29.2" lengthAdjust="spacingAndGlyphs">78.00</text>
<text x="1524.2" y="406.9" font-size="11.8" fill="#434651" textLength="29.2" lengthAdjust="spacingAndGlyphs">80.00</text>
<text x="1524.2" y="367.5" font-size="11.8" fill="#434651" textLength="29.2" lengthAdjust="spacingAndGlyphs">82.00</text>
<text x="1524.2" y="328.1" font-size="11.8" fill="#434651" textLength="29.2" lengthAdjust="spacingAndGlyphs">84.00</text>
<text x="1524.2" y="288.7" font-size="11.8" fill="#434651" textLength="29.2" lengthAdjust="spacingAndGlyphs">86.00</text>
<text x="1524.2" y="249.3" font-size="11.8" fill="#434651" textLength="29.2" lengthAdjust="spacingAndGlyphs">88.00</text>
<text x="1524.2" y="209.9" font-size="11.8" fill="#434651" textLength="29.2" lengthAdjust="spacingAndGlyphs">90.00</text>
<text x="1524.2" y="170.5" font-size="11.8" fill="#434651" textLength="29.2" lengthAdjust="spacingAndGlyphs">92.00</text>
<text x="1524.2" y="131.1" font-size="11.8" fill="#434651" textLength="29.2" lengthAdjust="spacingAndGlyphs">94.00</text>
<text x="1524.2" y="91.7" font-size="11.8" fill="#434651" textLength="29.2" lengthAdjust="spacingAndGlyphs">96.00</text>
</g>
<g clip-path="url(#axis2)">
<text x="1524.2" y="701.0" font-size="11.8" fill="#434651" textLength="29.2" lengthAdjust="spacingAndGlyphs">80.00</text>
<text x="1524.2" y="771.5" font-size="11.8" fill="#434651" textLength="29.2" lengthAdjust="spacingAndGlyphs">40.00</text>
</g>
<rect x="1517" y="28" width="62" height="57" fill="#ffffff"/>
<rect x="1519.5" y="30.5" width="56.5" height="51" rx="4" fill="#ffffff" stroke="#e6e8ef" stroke-width="1"/>
<text x="1529" y="47.5" font-size="11.3" fill="#2a2e39" textLength="20.5" lengthAdjust="spacingAndGlyphs">USD</text>
<text x="1529" y="73.5" font-size="11.3" fill="#2a2e39" textLength="18.5" lengthAdjust="spacingAndGlyphs">BLL</text>
<path d="M1516,123.3 H1557 Q1559,123.3 1559,125.3 V138.2 Q1559,140.2 1557,140.2 H1516 Z" fill="#2962ff"/>
<text x="1524.2" y="135.5" font-size="11.8" fill="#fff" font-weight="bold" textLength="29.4" lengthAdjust="spacingAndGlyphs">92.98</text>
<path d="M1516,140.2 H1557 Q1559,140.2 1559,142.2 V155 Q1559,157 1557,157 H1516 Z" fill="#2962ff"/>
<text x="1524.2" y="152.1" font-size="11.8" fill="#fff" font-weight="bold" textLength="29.4" lengthAdjust="spacingAndGlyphs">92.93</text>
<path d="M1516,262 H1573.6 Q1575.6,262 1575.6,264 V290.8 Q1575.6,292.8 1573.6,292.8 H1516 Z" fill="#ef5350"/>
<text x="1524.2" y="274.4" font-size="11.8" fill="#fff" font-weight="bold" textLength="29.4" lengthAdjust="spacingAndGlyphs">86.73</text>
<text x="1524.2" y="288.4" font-size="11.8" fill="#fff" fill-opacity="0.75" font-weight="bold" textLength="45.5" lengthAdjust="spacingAndGlyphs">09:54:11</text>
<path d="M1515,262 H1462.4 Q1460.4,262 1460.4,264 V276.8 Q1460.4,278.8 1462.4,278.8 H1515 Z" fill="#ef5350"/>
<text x="1465.5" y="274.4" font-size="11.8" fill="#fff" font-weight="bold" textLength="45" lengthAdjust="spacingAndGlyphs">CLK2024</text>
<path d="M1516,399.3 H1557 Q1559,399.3 1559,401.3 V413.9 Q1559,415.9 1557,415.9 H1516 Z" fill="#000000"/>
<text x="1524.2" y="411.5" font-size="11.8" fill="#fff" font-weight="bold" textLength="29.4" lengthAdjust="spacingAndGlyphs">79.77</text>
<path d="M1516,415.9 H1557 Q1559,415.9 1559,417.9 V430.5 Q1559,432.5 1557,432.5 H1516 Z" fill="#f23645"/>
<text x="1524.2" y="428.8" font-size="11.8" fill="#fff" font-weight="bold" textLength="29.4" lengthAdjust="spacingAndGlyphs">79.04</text>
<path d="M1515,415.9 H1465.9 Q1463.9,415.9 1463.9,417.9 V430.5 Q1463.9,432.5 1465.9,432.5 H1515 Z" fill="#f23645"/>
<text x="1469" y="428.8" font-size="11.8" fill="#fff" font-weight="bold" textLength="41" lengthAdjust="spacingAndGlyphs">SMA:MA</text>
<path d="M1516,446 H1557 Q1559,446 1559,448 V460.7 Q1559,462.7 1557,462.7 H1516 Z" fill="#131722"/>
<text x="1524.2" y="458.7" font-size="11.8" fill="#fff" font-weight="bold" textLength="29.4" lengthAdjust="spacingAndGlyphs">77.40</text>
<path d="M1516,542.9 H1557 Q1559,542.9 1559,544.9 V558 Q1559,560 1557,560 H1516 Z" fill="#ff9800"/>
<text x="1524.2" y="555.7" font-size="11.8" fill="#131722" textLength="29.4" lengthAdjust="spacingAndGlyphs">72.46</text>
<path d="M1516,592 H1557 Q1559,592 1559,594 V606.7 Q1559,608.7 1557,608.7 H1516 Z" fill="#9c27b0"/>
<text x="1524.2" y="604.6" font-size="11.8" fill="#fff" font-weight="bold" textLength="29.4" lengthAdjust="spacingAndGlyphs">70.00</text>
<path d="M1516,651.1 H1557 Q1559,651.1 1559,653.1 V665.5 Q1559,667.5 1557,667.5 H1516 Z" fill="#ff9800"/>
<text x="1524.2" y="663.6" font-size="11.8" fill="#131722" textLength="29.4" lengthAdjust="spacingAndGlyphs">67.00</text>
<rect x="1515" y="700.2" width="1" height="67.3" fill="#ffffff"/>
<path d="M1516,700.2 H1557 Q1559,700.2 1559,702.2 V714.9 Q1559,716.9 1557,716.9 H1516 Z" fill="#7e57c2"/>
<text x="1524.2" y="712.5" font-size="11.8" fill="#fff" font-weight="bold" textLength="29.4" lengthAdjust="spacingAndGlyphs">73.98</text>
<path d="M1515,700.2 H1491 Q1489,700.2 1489,702.2 V714.9 Q1489,716.9 1491,716.9 H1515 Z" fill="#7e57c2"/>
<text x="1494.3" y="712.5" font-size="11.8" fill="#fff" font-weight="bold" textLength="15.5" lengthAdjust="spacingAndGlyphs">RSI</text>
<rect x="1423" y="716.9" width="92" height="16.9" fill="#fff"/>
<rect x="1516" y="716.9" width="43" height="16.9" fill="#fff"/>
<text x="1427.5" y="728.6" font-size="11.8" fill="#131722" textLength="81.8" lengthAdjust="spacingAndGlyphs">Regular Bearish</text>
<text x="1524.2" y="728.6" font-size="11.8" fill="#131722" textLength="29.2" lengthAdjust="spacingAndGlyphs">67.40</text>
<path d="M1516,733.8 H1557 Q1559,733.8 1559,735.8 V748.7 Q1559,750.7 1557,750.7 H1516 Z" fill="#ffeb3b"/>
<text x="1524.2" y="746.3" font-size="11.8" fill="#131722" textLength="29.4" lengthAdjust="spacingAndGlyphs">65.58</text>
<path d="M1515,733.8 H1437 Q1435,733.8 1435,735.8 V748.7 Q1435,750.7 1437,750.7 H1515 Z" fill="#ffeb3b"/>
<text x="1439.6" y="746.3" font-size="11.8" fill="#131722" textLength="70" lengthAdjust="spacingAndGlyphs">RSI-based MA</text>
<rect x="1426" y="750.7" width="89" height="16.8" fill="#fff"/>
<rect x="1516" y="750.7" width="43" height="16.8" fill="#fff"/>
<text x="1431.5" y="762.7" font-size="11.8" fill="#131722" textLength="78" lengthAdjust="spacingAndGlyphs">Regular Bullish</text>
<text x="1524.2" y="762.7" font-size="11.8" fill="#131722" textLength="29.2" lengthAdjust="spacingAndGlyphs">58.20</text>
<path d="M9.8,834 H18 V843.8 H13.6 V838.2 H9.8 Z" fill="#131722"/>
<circle cx="21.0" cy="835.8" r="1.75" fill="#131722"/>
<path d="M23.8,834 H29.4 L25.9,843.8 H20.9 Z" fill="#131722"/>
<text x="32.8" y="843.8" font-size="12.8" fill="#2a2e39" textLength="70.2" lengthAdjust="spacingAndGlyphs">TradingView</text>
<defs><filter id="wsh" x="-5%" y="-10%" width="110%" height="125%"><feGaussianBlur in="SourceAlpha" stdDeviation="0.9" result="b"/><feOffset in="b" dx="1.8" dy="1.8" result="o"/><feFlood flood-color="#4a4d5a" flood-opacity="0.6"/><feComposite in2="o" operator="in" result="sh"/><feMerge><feMergeNode in="sh"/><feMergeNode in="SourceGraphic"/></feMerge></filter>
<filter id="bsh" x="-5%" y="-10%" width="110%" height="130%"><feGaussianBlur in="SourceAlpha" stdDeviation="0.6" result="b"/><feOffset in="b" dx="1.5" dy="1.5" result="o"/><feFlood flood-color="#50535e" flood-opacity="0.6"/><feComposite in2="o" operator="in" result="sh"/><feMerge><feMergeNode in="sh"/><feMergeNode in="SourceGraphic"/></feMerge></filter></defs>
<g filter="url(#wsh)" opacity="0.93"><path d="M1356.0,765.2 L1367.5,765.2 L1364.6,779.5 L1353.1,779.5 Z M1354.0,781.0 L1361.0,781.0 L1358.9,791.5 L1351.9,791.5 Z M1357.0,800.0 L1367.0,800.0 L1352.0,819.0 L1342.0,819.0 Z M1368.0,766.2 L1409.0,766.2 L1407.4,774.4 L1366.4,774.4 Z M1372.0,763.5 L1379.0,763.5 L1375.0,772.0 L1368.0,772.0 Z M1402.0,768.0 L1409.0,768.0 L1396.1,818.8 L1389.1,818.8 Z M1374.0,778.5 L1405.0,778.5 L1403.9,784.0 L1372.9,784.0 Z M1373.0,778.5 L1379.0,778.5 L1370.6,812.0 L1364.6,812.0 Z M1350.0,794.0 L1402.0,794.0 L1400.6,800.8 L1348.6,800.8 Z M1352.0,811.2 L1396.0,811.2 L1394.5,818.8 L1350.5,818.8 Z M1384.0,785.0 L1388.5,785.0 L1391.5,793.0 L1387.0,793.0 Z M1382.0,802.0 L1386.5,802.0 L1389.0,810.0 L1384.5,810.0 Z M1417.0,765.2 L1466.0,765.2 L1464.5,772.6 L1415.5,772.6 Z M1420.0,772.6 L1426.0,772.6 L1423.1,787.0 L1417.1,787.0 Z M1415.0,784.0 L1458.0,784.0 L1456.6,791.0 L1413.6,791.0 Z M1458.5,765.2 L1466.0,765.2 L1454.7,818.8 L1447.2,818.8 Z M1407.0,801.4 L1452.0,801.4 L1450.6,808.4 L1405.6,808.4 Z M1432.0,812.3 L1452.0,812.3 L1450.7,818.8 L1430.7,818.8 Z M1462.5,767.0 L1468.0,767.0 L1462.6,801.0 L1457.1,801.0 Z M1467.0,767.0 L1491.5,767.0 L1490.1,774.0 L1465.6,774.0 Z M1486.0,767.0 L1491.5,767.0 L1486.1,801.0 L1480.6,801.0 Z M1464.0,795.0 L1488.0,795.0 L1486.8,801.0 L1462.8,801.0 Z M1476.0,800.8 L1485.0,800.8 L1467.0,818.8 L1458.0,818.8 Z M1485.5,803.0 L1492.0,803.0 L1496.5,818.8 L1490.0,818.8 Z M1497.0,775.0 L1515.5,775.0 L1514.2,781.5 L1495.7,781.5 Z M1501.0,765.2 L1508.0,765.2 L1500.2,818.8 L1493.2,818.8 Z M1509.0,781.5 L1516.5,781.5 L1488.5,812.0 L1481.0,812.0 Z M1549.0,765.5 L1558.0,765.5 L1535.0,789.0 L1526.0,789.0 Z M1530.0,784.0 L1537.0,784.0 L1550.0,793.5 L1543.0,793.5 Z M1544.0,790.0 L1553.0,790.0 L1532.5,806.0 L1523.5,806.0 Z M1526.0,812.0 L1533.0,812.0 L1553.0,803.0 L1546.0,803.0 Z M1542.0,765.5 L1576.0,765.5 L1574.6,772.3 L1540.6,772.3 Z M1568.0,772.0 L1577.5,772.0 L1548.5,794.0 L1539.0,794.0 Z M1588.0,762.0 L1596.0,762.0 L1583.0,782.0 L1575.0,782.0 Z M1553.0,779.0 L1562.0,779.0 L1589.0,794.5 L1580.0,794.5 Z M1539.0,794.0 L1582.0,794.0 L1580.6,800.8 L1537.6,800.8 Z M1562.5,800.5 L1569.5,800.5 L1567.1,812.5 L1560.1,812.5 Z M1525.5,811.8 L1577.5,811.8 L1576.1,818.8 L1524.1,818.8 Z" fill="#ffffff"/></g>
<g filter="url(#bsh)"><text transform="translate(1354.5,850.7) scale(1.3,1)" x="0.0 20.8 42.8 59.2 76.8 98.2 120.8 136.5 156.7" y="0" font-size="30" font-weight="bold" font-style="italic" fill="#8aa8f8" stroke="#8aa8f8" stroke-width="1.0">zzrt01.cn</text></g>
</svg></body></html>
